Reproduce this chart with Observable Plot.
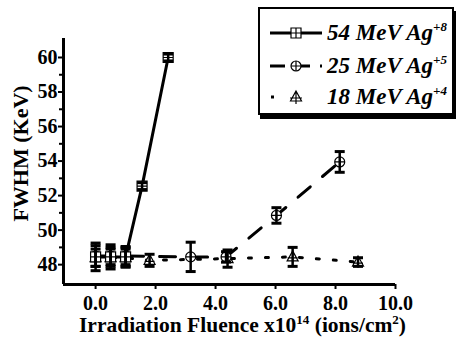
<!DOCTYPE html>
<html><head><meta charset="utf-8">
<script src="https://cdn.jsdelivr.net/npm/d3@7"></script>
<script src="https://cdn.jsdelivr.net/npm/@observablehq/plot@0.6"></script>
<style>
body{margin:0;background:#fff;}
#wrap{position:relative;width:456px;height:337px;font-family:'Liberation Serif',serif;}
#legend{position:absolute;left:258px;top:7px;width:192px;height:104px;border:2px solid #000;background:#fff;box-shadow:2px 4px 0 #000;}
.row{position:absolute;left:0;height:32px;width:192px;}
.row svg{position:absolute;left:10px;top:0;}
.lab{position:absolute;left:67px;top:3px;font-weight:bold;font-style:italic;font-size:23px;white-space:nowrap;line-height:26px;font-family:'Liberation Serif',serif;}
.lab sup{font-size:13px;position:relative;top:-6px;vertical-align:top;}
</style>
</head><body>
<div id="wrap"><div id="chart"></div><div id="legend"></div></div>
<script>
// ---- data ----
const seriesNames = ["54 MeV Ag", "25 MeV Ag", "18 MeV Ag"];
const seriesCharge = ["+8", "+5", "+4"];

const fluenceA = [0, 0.5, 1.0, 1.55, 2.42];
const fwhmA    = [48.45, 48.45, 48.45, 52.55, 60.0];
const errA     = [0.8, 0.7, 0.6, 0.2, 0.2];

const fluenceB = [0, 0.5, 1.0, 3.17, 4.35, 6.03, 8.14];
const fwhmB    = [48.5, 48.5, 48.5, 48.45, 48.45, 50.85, 53.95];
const errB     = [0.6, 0.5, 0.5, 0.85, 0.3, 0.45, 0.6];

const fluenceC = [0, 0.5, 1.0, 1.8, 4.4, 6.57, 8.75];
const fwhmC    = [48.4, 48.4, 48.4, 48.25, 48.35, 48.45, 48.15];
const errC     = [0.5, 0.5, 0.5, 0.35, 0.5, 0.55, 0.25];

const xTicks = [0, 2, 4, 6, 8, 10];
const yTicks = [48, 50, 52, 54, 56, 58, 60];
const yMinor = [49, 51, 53, 55, 57, 59];

const FONT = "'Liberation Serif', serif";

// ---- build tables ----
const mk = (xs, ys, es) => xs.map((x, i) => ({x, y: ys[i], e: es[i]}));
const A = mk(fluenceA, fwhmA, errA);
const B = mk(fluenceB, fwhmB, errB);
const C = mk(fluenceC, fwhmC, errC);

// ---- custom symbols ----
const cap = {draw(c){c.moveTo(-5,0);c.lineTo(5,0);}};
const sqPlus = {draw(c){c.moveTo(-5,-5);c.lineTo(5,-5);c.lineTo(5,5);c.lineTo(-5,5);c.closePath();c.moveTo(0,-5);c.lineTo(0,5);c.moveTo(-5,0);c.lineTo(5,0);}};
const cirPlus = {draw(c){c.moveTo(5,0);c.arc(0,0,5,0,2*Math.PI);c.closePath();c.moveTo(0,-5);c.lineTo(0,5);c.moveTo(-5,0);c.lineTo(5,0);}};
const triPlus = {draw(c){c.moveTo(0,-6);c.lineTo(5.5,4);c.lineTo(-5.5,4);c.closePath();c.moveTo(0,-6);c.lineTo(0,6);c.moveTo(-5,1);c.lineTo(5,1);}};

function errMarks(D){
  return [
    Plot.ruleX(D, {x:"x", y1:d=>d.y-d.e, y2:d=>d.y+d.e, stroke:"#000", strokeWidth:2.5}),
    Plot.dot(D, {x:"x", y:d=>d.y+d.e, symbol:cap, stroke:"#000", strokeWidth:3}),
    Plot.dot(D, {x:"x", y:d=>d.y-d.e, symbol:cap, stroke:"#000", strokeWidth:3})
  ];
}

const xDomain = [-1.07, 10];
const yDomain = [46.85, 61.1];

const chart = Plot.plot({
  width: 456, height: 337,
  marginLeft: 63, marginRight: 61, marginTop: 38, marginBottom: 53,
  style: {fontFamily: FONT, fontSize: "20px", fontWeight: "bold", color: "#000", background: "#fff"},
  x: {domain: xDomain},
  y: {domain: yDomain},
  marks: [
    Plot.axisX(xTicks, {tickSize: 5, tickPadding: 6, strokeWidth: 2, label: null, tickFormat: d => d.toFixed(1)}),
    Plot.axisY(yTicks, {tickSize: 5, tickPadding: 1, strokeWidth: 2, label: null}),
    Plot.axisY(yMinor, {tickSize: 4, strokeWidth: 2, label: null, tickFormat: () => ""}),
    Plot.ruleX([xDomain[0]], {stroke: "#000", strokeWidth: 3}),
    Plot.ruleY([yDomain[0]], {stroke: "#000", strokeWidth: 3}),
    Plot.line(C, {x: "x", y: "y", stroke: "#000", strokeWidth: 3, strokeDasharray: "3,14"}),
    Plot.line(B, {x: "x", y: "y", stroke: "#000", strokeWidth: 3, strokeDasharray: "16,16"}),
    Plot.line(A, {x: "x", y: "y", stroke: "#000", strokeWidth: 3}),
    Plot.dot(C, {x: "x", y: "y", symbol: triPlus, fill: "#fff", stroke: "#000", strokeWidth: 1.2}),
    Plot.dot(B, {x: "x", y: "y", symbol: cirPlus, fill: "#fff", stroke: "#000", strokeWidth: 1.2}),
    Plot.dot(A, {x: "x", y: "y", symbol: sqPlus, fill: "#fff", stroke: "#000", strokeWidth: 1.2}),
    ...errMarks(C), ...errMarks(B), ...errMarks(A),
    Plot.text(["Irradiation Fluence x10"], {frameAnchor: "bottom", textAnchor: "middle", lineAnchor: "middle", dy: 41, dx: 13, fontSize: 21.5}),
    Plot.text(["FWHM (KeV)"], {frameAnchor: "left", textAnchor: "middle", lineAnchor: "middle", dx: -43, dy: -8, rotate: -90, fontSize: 22})
  ]
});
document.getElementById("chart").appendChild(chart);

// superscripts in x title
d3.select(chart).selectAll("text").filter(function(){ return this.textContent === "Irradiation Fluence x10"; }).each(function(){
  const xt = d3.select(this);
  xt.text(null);
  xt.append("tspan").text("Irradiation Fluence x10");
  xt.append("tspan").attr("dy", -8).attr("font-size", 13).text("14");
  xt.append("tspan").attr("dy", 8).text(" (ions/cm");
  xt.append("tspan").attr("dy", -8).attr("font-size", 13).text("2");
  xt.append("tspan").attr("dy", 8).text(")");
});

// legend
const legend = document.getElementById("legend");
const rowTops = [8, 41, 72];
seriesNames.forEach((name, i) => {
  const row = document.createElement("div");
  row.className = "row";
  row.style.top = rowTops[i] + "px";
  let line;
  if (i === 0) line = `<line x1="0" x2="52" y1="16" y2="16" stroke="#000" stroke-width="3"/>`;
  else if (i === 1) line = `<line x1="0" x2="52" y1="16" y2="16" stroke="#000" stroke-width="3" stroke-dasharray="15,10"/>`;
  else line = `<line x1="1" x2="4" y1="16" y2="16" stroke="#000" stroke-width="3"/>`;
  let sym;
  if (i === 0) sym = `<path d="M-5,-5H5V5H-5Z M0,-5V5 M-5,0H5" fill="#fff" stroke="#000" stroke-width="1.2"/>`;
  else if (i === 1) sym = `<circle r="5" fill="#fff" stroke="#000" stroke-width="1.2"/><path d="M0,-5V5 M-5,0H5" stroke="#000" stroke-width="1.2"/>`;
  else sym = `<path d="M0,-6L5.5,4H-5.5Z M0,-6V7 M-6,1H6" fill="#fff" stroke="#000" stroke-width="1.2"/>`;
  row.innerHTML = `<svg width="56" height="32">${line}<g transform="translate(26,16)">${sym}</g></svg><span class="lab">${name}<sup>${seriesCharge[i]}</sup></span>`;
  legend.appendChild(row);
});
</script>
</body></html>
